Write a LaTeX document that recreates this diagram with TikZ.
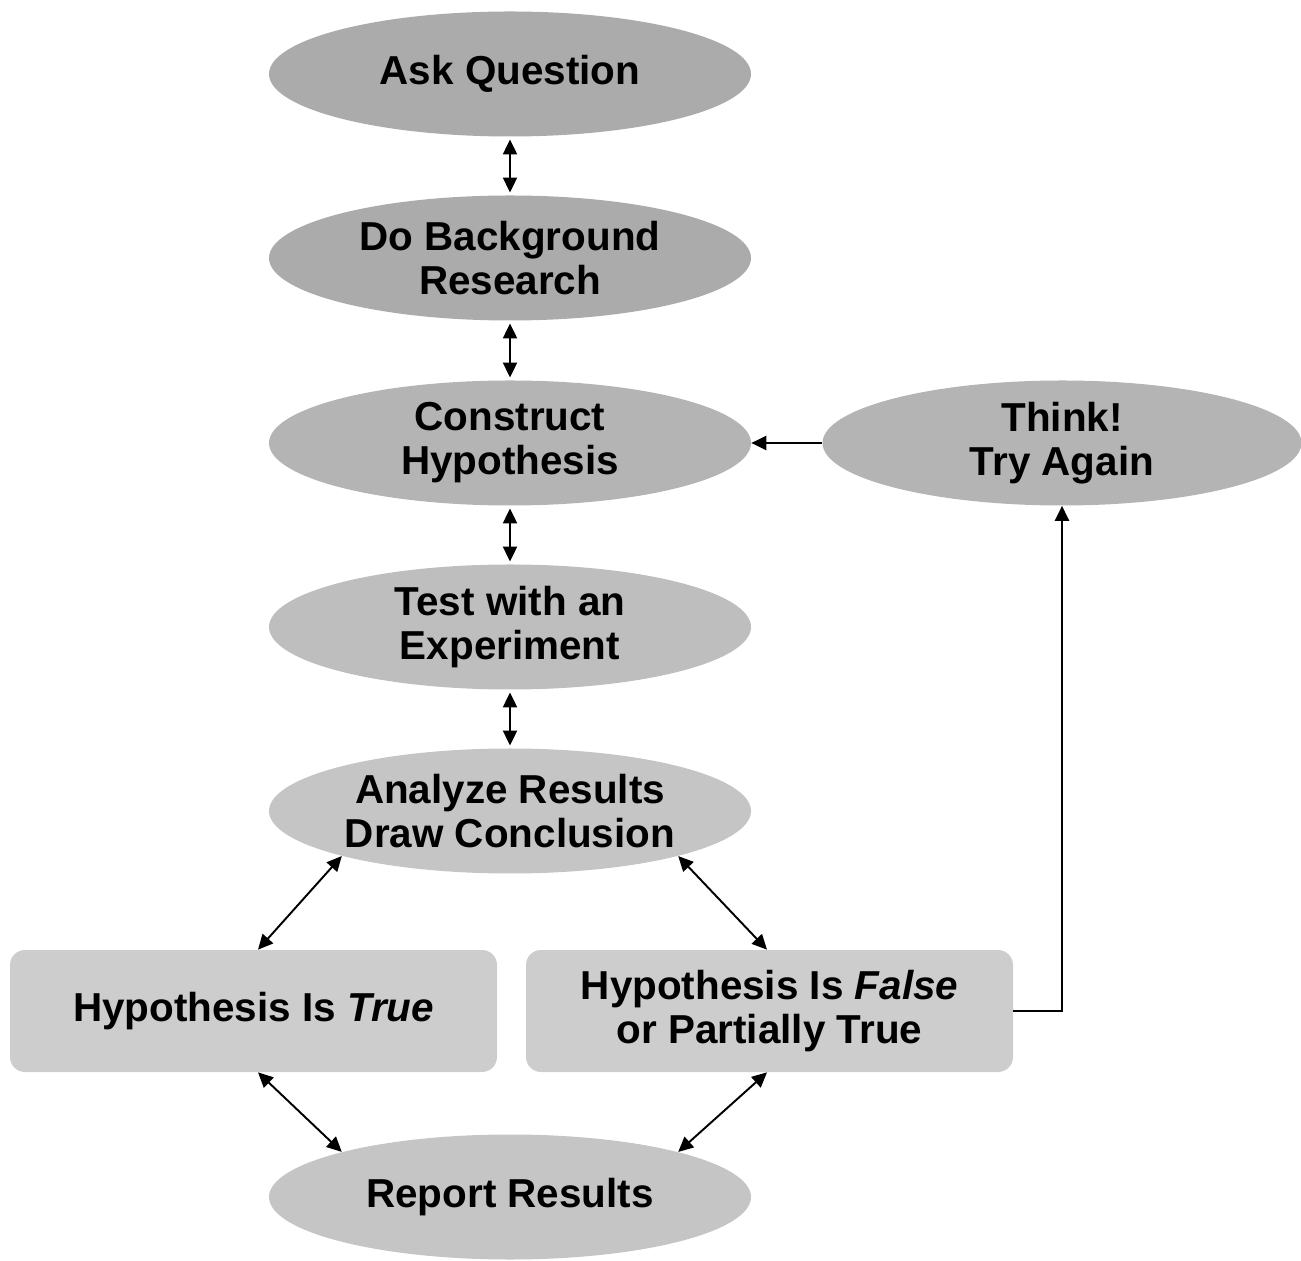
\documentclass[tikz,border=0pt]{standalone}
\usepackage{fontspec}
\setmainfont{Liberation Sans}
\usepackage{tikz}
\usetikzlibrary{arrows.meta,shapes.geometric}
\definecolor{stagedark}{HTML}{ABABAB}
\definecolor{stagemid}{HTML}{B4B4B4}
\definecolor{stagelight}{HTML}{BEBEBE}
\definecolor{stagepale}{HTML}{C5C5C5}
\definecolor{boxfill}{HTML}{CDCDCD}
\tikzset{
  stage/.style={ellipse, minimum width=9.64cm, minimum height=2.5cm, inner sep=0pt,
    align=center, font=\fontsize{23}{25}\selectfont\bfseries},
  outcome/.style={rectangle, rounded corners=0.3cm, fill=boxfill, minimum width=9.74cm,
    minimum height=2.44cm, inner sep=0pt, align=center, font=\fontsize{23}{25}\selectfont\bfseries},
  link/.style={line width=1.1pt, -{Triangle[length=8.5pt,width=8pt]}},
  dlink/.style={line width=1.1pt, {Triangle[length=8.5pt,width=8pt]}-{Triangle[length=8.5pt,width=8pt]}}
}

\begin{document}
\begin{tikzpicture}
\useasboundingbox (0,0) rectangle (26.02,25.2);
% main column
\node[stage, fill=stagedark] (ask) at (10.2,23.72) {Ask Question};
\node[stage, fill=stagedark] (bg) at (10.2,20.04) {Do Background\\Research};
\node[stage, fill=stagemid] (hyp) at (10.2,16.34) {Construct\\Hypothesis};
\node[stage, fill=stagelight] (test) at (10.2,12.66) {Test with an\\Experiment};
\node[stage, fill=stagepale] (ana) at (10.2,8.98) {Analyze Results\\Draw Conclusion};
\node[stage, fill=stagepale] (rep) at (10.2,1.26) {Report Results};
\node[stage, fill=stagemid, minimum width=9.58cm] (think) at (21.24,16.34) {Think!\\Try Again};
% outcomes
\node[outcome] (true) at (5.07,4.98) {Hypothesis Is \textit{True}};
\node[outcome] (false) at (15.39,4.98) {Hypothesis Is \textit{False}\\or Partially True};
% connectors
\foreach \a/\b in {ask/bg, bg/hyp, hyp/test, test/ana}{
  \draw[dlink, shorten <=1.5pt, shorten >=1.5pt] (\a.south) -- (\b.north);
}
\draw[dlink] (ana.195) -- ([xshift=0.09cm]true.north);
\draw[dlink] (ana.-15) -- ([xshift=-0.05cm]false.north);
\draw[dlink] ([xshift=0.09cm]true.south) -- (rep.165);
\draw[dlink] ([xshift=-0.05cm]false.south) -- (rep.15);
\draw[link] (false.east) -| (think.south);
\draw[link] (think.west) -- (hyp.east);
\end{tikzpicture}
\end{document}
